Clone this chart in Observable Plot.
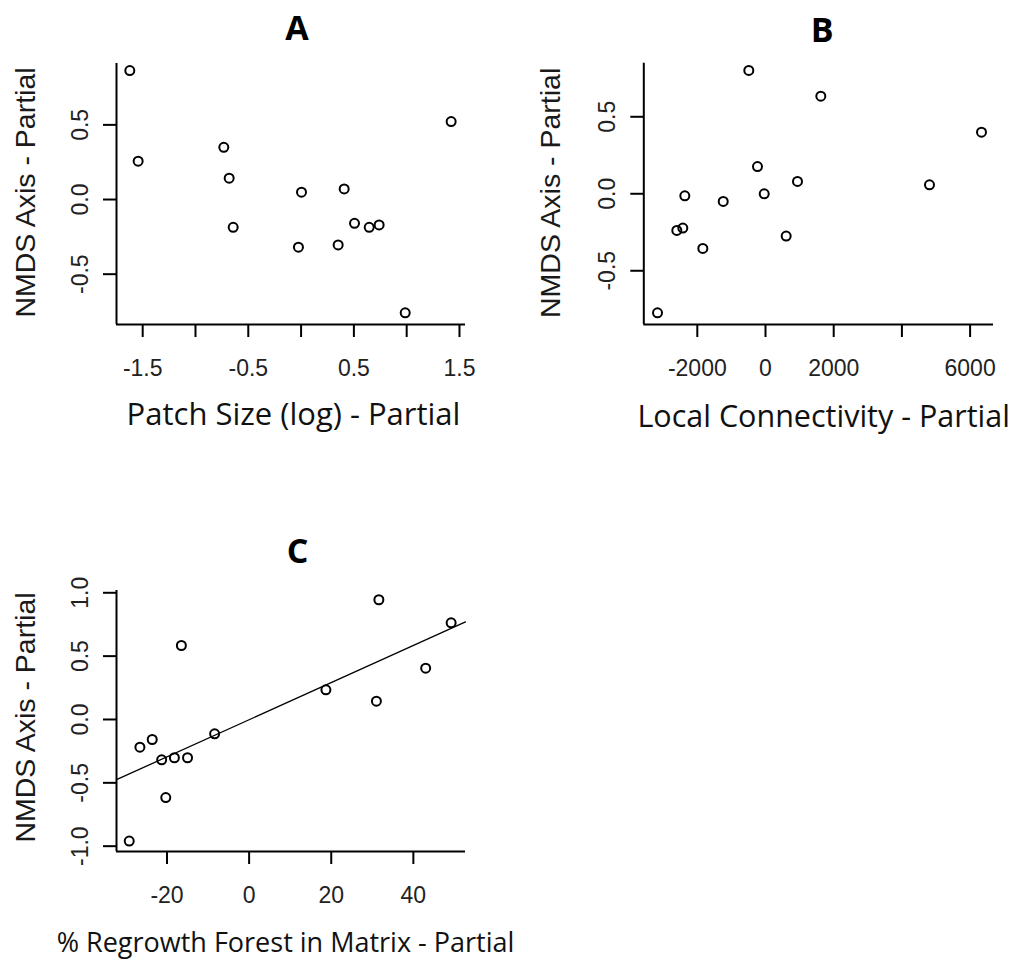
<!DOCTYPE html>
<html><head><meta charset="utf-8">
<script src="https://cdn.jsdelivr.net/npm/d3@7"></script>
<script src="https://cdn.jsdelivr.net/npm/@observablehq/plot@0.6"></script>
<style>
html,body{margin:0;padding:0;background:#fff;}
#wrap{position:relative;width:1015px;height:960px;overflow:hidden;background:#fff;}
#wrap svg{position:absolute;overflow:visible;}
</style></head><body><div id="wrap"></div>
<script>
// ---- Panel A: Patch Size (log) - Partial ----
const patchX = [-1.622,-1.543,-0.732,-0.681,-0.643,0.004,-0.025,0.408,0.351,0.506,0.645,0.739,0.986,1.421];
const patchY = [0.864,0.257,0.350,0.143,-0.186,0.049,-0.319,0.071,-0.304,-0.159,-0.186,-0.170,-0.759,0.522];
const patchXTicks = [-1.5,-1,-0.5,0,0.5,1,1.5];
const patchXTickLabels = ["-1.5","","-0.5","","0.5","","1.5"];
const patchYTicks = [-0.5,0,0.5];
const patchYTickLabels = ["-0.5","0.0","0.5"];

// ---- Panel B: Local Connectivity - Partial ----
const connX = [-490,1622,6334,-235,938,-38,4809,-2366,-1240,-2601,-2425,-1838,606,-3167];
const connY = [0.801,0.634,0.400,0.177,0.080,0.000,0.058,-0.013,-0.050,-0.238,-0.223,-0.355,-0.275,-0.773];
const connXTicks = [-2000,0,2000,4000,6000];
const connXTickLabels = ["-2000","0","2000","","6000"];
const connYTicks = [-0.5,0,0.5];
const connYTickLabels = ["-0.5","0.0","0.5"];

// ---- Panel C: % Regrowth Forest in Matrix - Partial ----
const regrowX = [31.6,49.2,-16.5,43.0,18.7,31.0,-8.4,-26.6,-23.6,-21.3,-18.2,-15.0,-20.3,-29.2];
const regrowY = [0.945,0.763,0.584,0.405,0.234,0.144,-0.113,-0.219,-0.158,-0.318,-0.302,-0.302,-0.616,-0.960];
const regrowXTicks = [-20,0,20,40];
const regrowXTickLabels = ["-20","0","20","40"];
const regrowYTicks = [-1,-0.5,0,0.5,1];
const regrowYTickLabels = ["-1.0","-0.5","0.0","0.5","1.0"];
const regrowFitX = [-32.3,52.7];
const regrowFitY = [-0.475,0.770];

const panelTitles = ["A","B","C"];
const xLabels = ["Patch Size (log) - Partial","Local Connectivity - Partial","% Regrowth Forest in Matrix - Partial"];
const yLabel = "NMDS Axis - Partial";

const tickFont = "'Liberation Sans', Arial, sans-serif";
const labelFont = "'Open Sans', Lato, sans-serif";

function panel(cfg) {
  const pts = cfg.xs.map((x, i) => ({x, y: cfg.ys[i]}));
  const marks = [
    Plot.ruleY([cfg.yDomain[0]], {stroke: "#000", strokeWidth: 2}),
    Plot.ruleX([cfg.xDomain[0]], {stroke: "#000", strokeWidth: 2}),
    Plot.axisX(cfg.xTicks, {
      tickSize: 13, tickPadding: 22, strokeWidth: 2, stroke: "#000",
      tickFormat: d => cfg.xTickLabels[cfg.xTicks.indexOf(d)],
      fontSize: 23, fontFamily: tickFont, fill: "#222", label: null
    }),
    Plot.axisY(cfg.yTicks, {
      tickSize: 13, tickPadding: 16, strokeWidth: 2, stroke: "#000", tickRotate: -90,
      tickFormat: d => cfg.yTickLabels[cfg.yTicks.indexOf(d)],
      fontSize: 23, fontFamily: tickFont, fill: "#222", label: null
    }),
    ...(cfg.extra || []),
    Plot.dot(pts, {x: "x", y: "y", r: 4.5, stroke: "#000", strokeWidth: 2, fill: "none"}),
    Plot.text([cfg.title], {frameAnchor: "top", dx: cfg.titleDx, dy: cfg.titleDy, lineAnchor: "middle", textAnchor: "middle",
      fontSize: 34, fontWeight: "bold", fontFamily: labelFont, fill: "#000"}),
    Plot.text([cfg.xLabel], {frameAnchor: "bottom", dx: cfg.xlabDx, dy: cfg.xlabDy, lineAnchor: "middle", textAnchor: "middle",
      fontSize: cfg.xlabSize, fontFamily: labelFont, fill: "#111"}),
    Plot.text([yLabel], {frameAnchor: "left", dx: cfg.ylabDx, dy: cfg.ylabDy, rotate: -90, lineAnchor: "middle", textAnchor: "middle",
      fontSize: 28.5, fontFamily: tickFont, fill: "#1a1a1a"})
  ];
  const svg = Plot.plot({
    width: cfg.width, height: cfg.height,
    marginLeft: cfg.ml, marginRight: cfg.mr, marginTop: cfg.mt, marginBottom: cfg.mb,
    x: {domain: cfg.xDomain, axis: null},
    y: {domain: cfg.yDomain, axis: null},
    style: {background: "transparent", overflow: "visible"},
    marks
  });
  svg.style.left = cfg.left + "px";
  svg.style.top = cfg.top + "px";
  document.getElementById("wrap").appendChild(svg);
}

panel({
  left: 0, top: 0, width: 500, height: 440, ml: 116, mr: 35, mt: 63, mb: 116,
  xs: patchX, ys: patchY, xDomain: [-1.748, 1.557], yDomain: [-0.837, 0.911],
  xTicks: patchXTicks, xTickLabels: patchXTickLabels, yTicks: patchYTicks, yTickLabels: patchYTickLabels,
  title: panelTitles[0], titleDx: 6, titleDy: -34,
  xLabel: xLabels[0], xlabDx: 2.5, xlabDy: 91, xlabSize: 31,
  ylabDx: -91, ylabDy: -1.5
});

panel({
  left: 500, top: 0, width: 515, height: 440, ml: 143.3, mr: 22, mt: 62.7, mb: 116,
  xs: connX, ys: connY, xDomain: [-3569, 6686], yDomain: [-0.849, 0.848],
  xTicks: connXTicks, xTickLabels: connXTickLabels, yTicks: connYTicks, yTickLabels: connYTickLabels,
  title: panelTitles[1], titleDx: 3.5, titleDy: -32,
  xLabel: xLabels[1], xlabDx: 5, xlabDy: 93, xlabSize: 30.5,
  ylabDx: -93.3, ylabDy: -1
});

panel({
  left: 0, top: 480, width: 530, height: 480, ml: 116, mr: 65, mt: 110, mb: 109,
  xs: regrowX, ys: regrowY, xDomain: [-32.3, 52.7], yDomain: [-1.042, 1.018],
  xTicks: regrowXTicks, xTickLabels: regrowXTickLabels, yTicks: regrowYTicks, yTickLabels: regrowYTickLabels,
  extra: [Plot.line(regrowFitX.map((x, i) => ({x, y: regrowFitY[i]})), {x: "x", y: "y", stroke: "#000", strokeWidth: 1.3})],
  title: panelTitles[2], titleDx: 6.5, titleDy: -38,
  xLabel: xLabels[2], xlabDx: -5.5, xlabDy: 92, xlabSize: 27,
  ylabDx: -91, ylabDy: -3.5
});
</script>
</body></html>
